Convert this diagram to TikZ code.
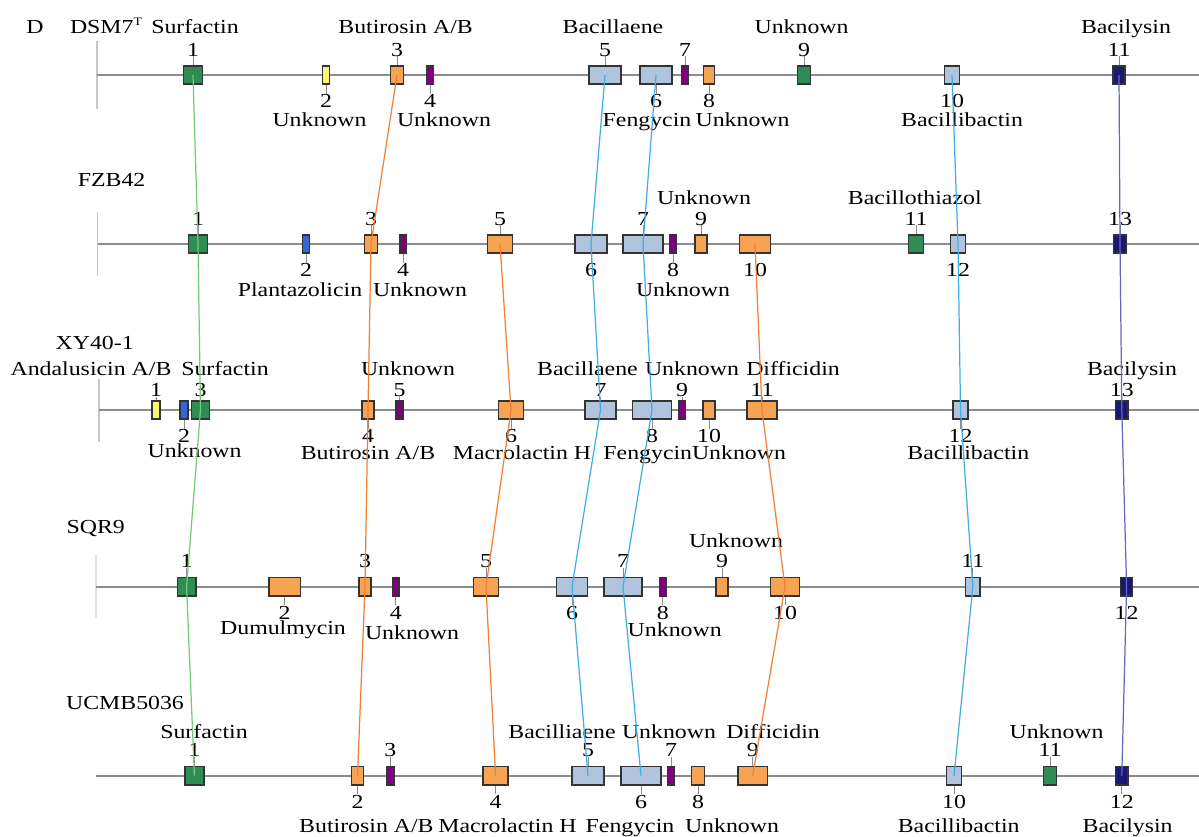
\documentclass[tikz,border=0pt]{standalone}
\usepackage{fontspec}
\setmainfont{Liberation Serif}[FakeStretch=1.2]
\definecolor{clgreen}{rgb}{0.18,0.55,0.33}
\definecolor{clyellow}{rgb}{0.98,0.96,0.45}
\definecolor{clorange}{rgb}{0.97,0.64,0.33}
\definecolor{clpurple}{rgb}{0.50,0.00,0.50}
\definecolor{clsteel}{rgb}{0.69,0.77,0.87}
\definecolor{clnavy}{rgb}{0.10,0.10,0.45}
\definecolor{clblue}{rgb}{0.20,0.40,0.85}
\definecolor{lkgreen}{rgb}{0.45,0.80,0.45}
\definecolor{lkorange}{rgb}{0.94,0.50,0.20}
\definecolor{lksky}{rgb}{0.25,0.68,0.90}
\definecolor{lkslate}{rgb}{0.40,0.40,0.75}

\begin{document}
\begin{tikzpicture}[
  x=0.02cm, y=-0.02cm,
  every node/.style={font=\fontsize{11.3pt}{13pt}\selectfont, inner sep=1pt, text height=7.6pt, text depth=0pt},
  gene/.style={rectangle, draw=black!80, line width=0.8pt, minimum height=10.4pt, inner sep=0pt},
  clustgreen/.style={gene, fill=clgreen},
  clustyellow/.style={gene, fill=clyellow},
  clustorange/.style={gene, fill=clorange},
  clustpurple/.style={gene, fill=clpurple},
  cluststeel/.style={gene, fill=clsteel},
  clustnavy/.style={gene, fill=clnavy},
  clustblue/.style={gene, fill=clblue},
  bw/.style={minimum width=#1*0.5669pt},
  numlbl/.style={inner sep=0pt},
  numabove/.style={pin={[numlbl]above:#1}},
  numbelow/.style={pin={[numlbl]below:#1}},
  tightabove/.style={pin={[numlbl, yshift=-3pt]above:#1}},
  pin distance=5pt,
  every pin edge/.style={draw=black!45, line width=0.5pt},
  backbone/.style={draw=black!45, line width=1.1pt},
  endtick/.style={draw=black!22, line width=1pt},
  link/.style={line width=0.7pt},
]
\useasboundingbox (0,0) rectangle (1199,836);

% ---- strain names ----
\node (panel) at (35,27) {D};
\node (sa) at (106,27) {DSM7\raisebox{0.9ex}{\fontsize{6.5pt}{7pt}\selectfont T}};
\node (sb) at (111.6,180) {FZB42};
\node (sc) at (94.7,342.7) {XY40-1};
\node (sd) at (95.7,527.3) {SQR9};
\node (se) at (125,703.3) {UCMB5036};

% ---- backbones ----
\coordinate (a0) at (97,75);     \coordinate (aEnd) at (1199,75);
\coordinate (a0t) at (97,41);    \coordinate (a0b) at (97,109);
\coordinate (b0) at (97.6,244);  \coordinate (bEnd) at (1199,244);
\coordinate (b0t) at (97.6,212); \coordinate (b0b) at (97.6,276);
\coordinate (c0) at (98.7,410);  \coordinate (cEnd) at (1199,410);
\coordinate (c0t) at (98.7,379); \coordinate (c0b) at (98.7,442);
\coordinate (d0) at (95.7,586.7); \coordinate (dEnd) at (1199,586.7);
\coordinate (d0t) at (95.7,555);  \coordinate (d0b) at (95.7,618);
\coordinate (e0) at (96,775.7);  \coordinate (eEnd) at (1199,775.7);
\draw[endtick] (a0t) -- (a0b);
\draw[endtick] (b0t) -- (b0b);
\draw[endtick] (c0t) -- (c0b);
\draw[endtick, draw=black!12] (d0t) -- (d0b);
\draw[backbone] (a0) -- (aEnd);
\draw[backbone] (b0) -- (bEnd);
\draw[backbone] (c0) -- (cEnd);
\draw[backbone] (d0) -- (dEnd);
\draw[backbone] (e0) -- (eEnd);

% ---- DSM7T clusters ----
\node[clustgreen, bw=19, numabove=1] (a1) at (193,75) {};
\node[clustyellow, bw=7, numbelow=2] (a2) at (326,75) {};
\node[clustorange, bw=12.5, numabove=3] (a3) at (397,75) {};
\node[clustpurple, bw=6.5, numbelow=4] (a4) at (430,75) {};
\node[cluststeel, bw=32, numabove=5] (a5) at (605,75) {};
\node[cluststeel, bw=32, numbelow=6] (a6) at (656,75) {};
\node[clustpurple, bw=7.5, numabove=7] (a7) at (685,75) {};
\node[clustorange, bw=11.5, numbelow=8] (a8) at (709,75) {};
\node[clustgreen, bw=13.5, numabove=9] (a9) at (804,75) {};
\node[cluststeel, bw=15.3, numbelow=10] (a10) at (952,75) {};
\node[clustnavy, bw=12.2, numabove=11] (a11) at (1119,75) {};

\node (ta1) at (195,27) {Surfactin};
\node (ta3) at (405.6,27) {Butirosin A/B};
\node (ta5) at (613,27) {Bacillaene};
\node (ta9) at (801.6,27) {Unknown};
\node (ta11) at (1126,27) {Bacilysin};
\node (ta2) at (319.5,120) {Unknown};
\node (ta4) at (444,120) {Unknown};
\node (ta6) at (647,120) {Fengycin};
\node (ta8) at (742.6,120) {Unknown};
\node (ta10) at (962,120) {Bacillibactin};

% ---- FZB42 clusters ----
\node[clustgreen, bw=19, numabove=1] (b1) at (198,244) {};
\node[clustblue, bw=7, numbelow=2] (b2) at (306,244) {};
\node[clustorange, bw=12.7, numabove=3] (b3) at (371,244) {};
\node[clustpurple, bw=6.4, numbelow=4] (b4) at (403,244) {};
\node[clustorange, bw=25.6, numabove=5] (b5) at (500,244) {};
\node[cluststeel, bw=32, numbelow=6] (b6) at (591,244) {};
\node[cluststeel, bw=40, numabove=7] (b7) at (643,244) {};
\node[clustpurple, bw=6.8, numbelow=8] (b8) at (673,244) {};
\node[clustorange, bw=12, numabove=9] (b9) at (701,244) {};
\node[clustorange, bw=30.6, numbelow=10] (b10) at (755,244) {};
\node[clustgreen, bw=15.4, numabove=11] (b11) at (916,244) {};
\node[cluststeel, bw=14.5, numbelow=12] (b12) at (958,244) {};
\node[clustnavy, bw=13, numabove=13] (b13) at (1120,244) {};

\node (tb9) at (704,198) {Unknown};
\node (tb11) at (914.8,198) {Bacillothiazol};
\node (tb2) at (300,290) {Plantazolicin};
\node (tb4) at (420,290) {Unknown};
\node (tb8) at (683,290) {Unknown};

% ---- XY40-1 clusters ----
\node[clustyellow, bw=7.7, tightabove=1] (c1) at (156,410) {};
\node[clustblue, bw=8.3, numbelow=2] (c2) at (184,410) {};
\node[clustgreen, bw=18.3, tightabove=3] (c3) at (200.5,410) {};
\node[clustorange, bw=12.3, numbelow=4] (c4) at (368,410) {};
\node[clustpurple, bw=7, tightabove=5] (c5) at (399.6,410) {};
\node[clustorange, bw=24.8, numbelow=6] (c6) at (511,410) {};
\node[cluststeel, bw=31, tightabove=7] (c7) at (600.5,410) {};
\node[cluststeel, bw=39.5, numbelow=8] (c8) at (652,410) {};
\node[clustpurple, bw=6.5, tightabove=9] (c9) at (682,410) {};
\node[clustorange, bw=11.8, numbelow=10] (c10) at (709,410) {};
\node[clustorange, bw=30, tightabove=11] (c11) at (762,410) {};
\node[cluststeel, bw=15.4, numbelow=12] (c12) at (960.5,410) {};
\node[clustnavy, bw=12.5, tightabove=13] (c13) at (1121.8,410) {};

\node (tc1) at (91,369) {Andalusicin A/B};
\node (tc3) at (225,369) {Surfactin};
\node (tc5) at (408,369) {Unknown};
\node (tc7) at (587.5,369) {Bacillaene};
\node (tc9) at (692,369) {Unknown};
\node (tc11) at (793,369) {Difficidin};
\node (tc13) at (1132,369) {Bacilysin};
\node (tc2) at (194.6,450.7) {Unknown};
\node (tc4) at (368,452.7) {Butirosin A/B};
\node (tc6) at (522,452.7) {Macrolactin H};
\node (tc8) at (647.8,452.7) {Fengycin};
\node (tc10) at (739,452.7) {Unknown};
\node (tc12) at (968.3,452.7) {Bacillibactin};

% ---- SQR9 clusters ----
\node[clustgreen, bw=18.8, numabove=1] (d1) at (186.6,586.7) {};
\node[clustorange, bw=31.4, numbelow=2] (d2) at (284.7,586.7) {};
\node[clustorange, bw=12.2, numabove=3] (d3) at (365,586.7) {};
\node[clustpurple, bw=6.9, numbelow=4] (d4) at (395.7,586.7) {};
\node[clustorange, bw=24.9, numabove=5] (d5) at (486,586.7) {};
\node[cluststeel, bw=30.6, numbelow=6] (d6) at (572,586.7) {};
\node[cluststeel, bw=38.2, numabove=7] (d7) at (623,586.7) {};
\node[clustpurple, bw=6.9, numbelow=8] (d8) at (662.8,586.7) {};
\node[clustorange, bw=12.2, numabove=9] (d9) at (722,586.7) {};
\node[clustorange, bw=29.5, numbelow=10] (d10) at (785,586.7) {};
\node[cluststeel, bw=14.5, numabove=11] (d11) at (972.8,586.7) {};
\node[clustnavy, bw=12.2, numbelow=12] (d12) at (1126.6,586.7) {};

\node (td9) at (736,540.7) {Unknown};
\node (td2) at (283,628.3) {Dumulmycin};
\node (td4) at (412,632.7) {Unknown};
\node (td8) at (674.7,630) {Unknown};

% ---- UCMB5036 clusters ----
\node[clustgreen, bw=19.2, numabove=1] (e1) at (194.4,775.7) {};
\node[clustorange, bw=12.3, numbelow=2] (e2) at (357.5,775.7) {};
\node[clustpurple, bw=7.7, numabove=3] (e3) at (390.3,775.7) {};
\node[clustorange, bw=25.2, numbelow=4] (e4) at (495.6,775.7) {};
\node[cluststeel, bw=32, numabove=5] (e5) at (588,775.7) {};
\node[cluststeel, bw=40.2, numbelow=6] (e6) at (641,775.7) {};
\node[clustpurple, bw=6.9, numabove=7] (e7) at (671,775.7) {};
\node[clustorange, bw=12.7, numbelow=8] (e8) at (698,775.7) {};
\node[clustorange, bw=29.8, numabove=9] (e9) at (752.7,775.7) {};
\node[cluststeel, bw=15.4, numbelow=10] (e10) at (954,775.7) {};
\node[clustgreen, bw=12.6, numabove=11] (e11) at (1050,775.7) {};
\node[clustnavy, bw=12.5, numbelow=12] (e12) at (1121.8,775.7) {};

\node (te1) at (204,731.7) {Surfactin};
\node (te5) at (562,731.7) {Bacilliaene};
\node (te7) at (669,731.7) {Unknown};
\node (te9) at (773,731.7) {Difficidin};
\node (te11) at (1056.6,731.7) {Unknown};
\node (te2) at (366.4,826) {Butirosin A/B};
\node (te4) at (507.5,826) {Macrolactin H};
\node (te6) at (630,826) {Fengycin};
\node (te8) at (732,826) {Unknown};
\node (te10) at (958.7,826) {Bacillibactin};
\node (te12) at (1127.6,826) {Bacilysin};

% ---- homologous clusters ----
\draw[link, lkgreen]  (a1.center) -- (b1.center) -- (c3.center) -- (d1.center) -- (e1.center);   % surfactin
\draw[link, lkorange] (a3.center) -- (b3.center) -- (c4.center) -- (d3.center) -- (e2.center);   % butirosin
\draw[link, lkorange] (b5.center) -- (c6.center) -- (d5.center) -- (e4.center);                  % macrolactin
\draw[link, lksky]    (a5.center) -- (b6.center) -- (c7.center) -- (d6.center) -- (e5.center);   % bacillaene
\draw[link, lksky]    (a6.center) -- (b7.center) -- (c8.center) -- (d7.center) -- (e6.center);   % fengycin
\draw[link, lkorange] (b10.center) -- (c11.center) -- (d10.center) -- (e9.center);               % difficidin
\draw[link, lksky]    (a10.center) -- (b12.center) -- (c12.center) -- (d11.center) -- (e10.center); % bacillibactin
\draw[link, lkslate]  (a11.center) -- (b13.center) -- (c13.center) -- (d12.center) -- (e12.center); % bacilysin

\end{tikzpicture}
\end{document}
